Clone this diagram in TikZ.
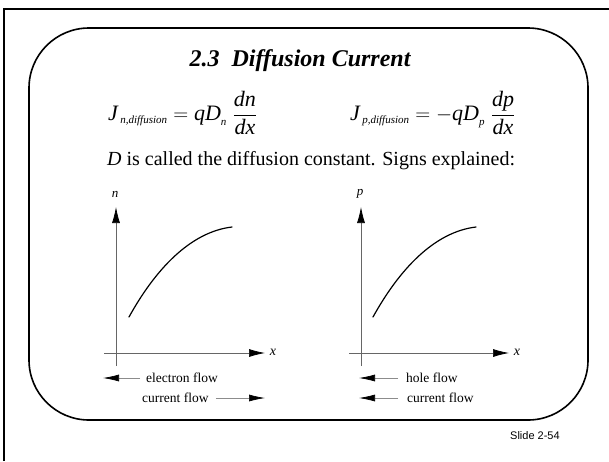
\documentclass[tikz,border=0pt]{standalone}
\usepackage{fontspec}
\setmainfont{Liberation Serif}
\newfontfamily\slidefont{Liberation Sans}
\usetikzlibrary{arrows.meta}

\tikzset{
    axis/.style={line width=0.7pt, draw=black!60, -{Latex[length=16pt, width=8pt, color=black]}},
    flow/.style={line width=0.7pt, draw=black!45, -{Latex[length=16pt, width=7pt, color=black]}},
    profile/.style={line width=1.2pt, line cap=round},
    lbl/.style={inner sep=0pt, font=\fontsize{13.5}{15}\selectfont},
    eq/.style={anchor=west, inner sep=0pt, font=\fontsize{22}{26}\selectfont},
}
\newcommand{\subtxt}[1]{\mbox{\fontsize{11}{11}\selectfont\itshape #1}}

\begin{document}
\begin{tikzpicture}[x=1pt, y=-1pt]
    \useasboundingbox (0,0) rectangle (609,461);

    % Slide frame
    \draw[line width=2pt] (4,461) -- (4,9) -- (609,9);
    \draw[line width=1.6pt, rounded corners=60pt] (29,28) rectangle (588,420);

    % Title and the two currents
    \node[inner sep=0pt, font=\fontsize{24}{28}\selectfont\bfseries\itshape] (title) at (300,61) {2.3\ \ Diffusion Current};
    \node[eq] (eqn) at (108,113)
        {$\displaystyle \mathit{J}_{\,\subtxt{n,diffusion}} = \mathit{qD}_{\subtxt{n}}\;\frac{\mbox{\itshape dn}}{\mbox{\itshape dx}}$};
    \node[eq] (eqp) at (350,113)
        {$\displaystyle \mathit{J}_{\,\subtxt{p,diffusion}} = -\mathit{qD}_{\subtxt{p}}\;\frac{\mbox{\itshape dp}}{\mbox{\itshape dx}}$};
    \node[anchor=west, inner sep=0pt, font=\fontsize{20}{24}\selectfont] (remark) at (107,161)
        {\textit{D} is called the diffusion constant. Signs explained:};

    % Electron profile n(x)
    \coordinate (nbottom) at (116,366);
    \coordinate (ntop) at (116,207);
    \coordinate (nleft) at (104,353);
    \coordinate (nright) at (265,353);
    \draw[axis] (nbottom) -- (ntop);
    \draw[axis] (nleft) -- (nright);
    \node[lbl, font=\fontsize{13}{15}\selectfont\itshape] (nlabel) at (115,194) {n};
    \node[lbl, font=\fontsize{14}{15}\selectfont\itshape] (nxlabel) at (273,352) {x};
    \draw[profile] (129,317) .. controls (155,270) and (190,232) .. (232,227);

    % Hole profile p(x)
    \coordinate (pbottom) at (361,366);
    \coordinate (ptop) at (361,207);
    \coordinate (pleft) at (349,353);
    \coordinate (pright) at (509,353);
    \draw[axis] (pbottom) -- (ptop);
    \draw[axis] (pleft) -- (pright);
    \node[lbl, font=\fontsize{13}{15}\selectfont\itshape] (plabel) at (360,194) {p};
    \node[lbl, font=\fontsize{14}{15}\selectfont\itshape] (pxlabel) at (517,352) {x};
    \draw[profile] (373,317) .. controls (399,270) and (434,232) .. (476,227);

    % Flow directions
    \node[lbl, anchor=west] (eflow) at (146,378) {electron flow};
    \coordinate (etip) at (103,378);
    \draw[flow] ([xshift=-6pt]eflow.west) -- (etip);
    \node[lbl, anchor=west] (ncurrent) at (142,398) {current flow};
    \coordinate (nctip) at (265,398);
    \draw[flow] ([xshift=7pt]ncurrent.east) -- (nctip);

    \node[lbl, anchor=west] (hflow) at (406,378) {hole flow};
    \coordinate (htip) at (359,378);
    \draw[flow] ([xshift=-8pt]hflow.west) -- (htip);
    \node[lbl, anchor=west] (pcurrent) at (407,398) {current flow};
    \coordinate (pctip) at (359,398);
    \draw[flow] ([xshift=-9pt]pcurrent.west) -- (pctip);

    \node[anchor=west, inner sep=0pt, font=\slidefont\fontsize{11}{13}\selectfont] (slideno) at (510,436) {Slide 2-54};
\end{tikzpicture}
\end{document}
